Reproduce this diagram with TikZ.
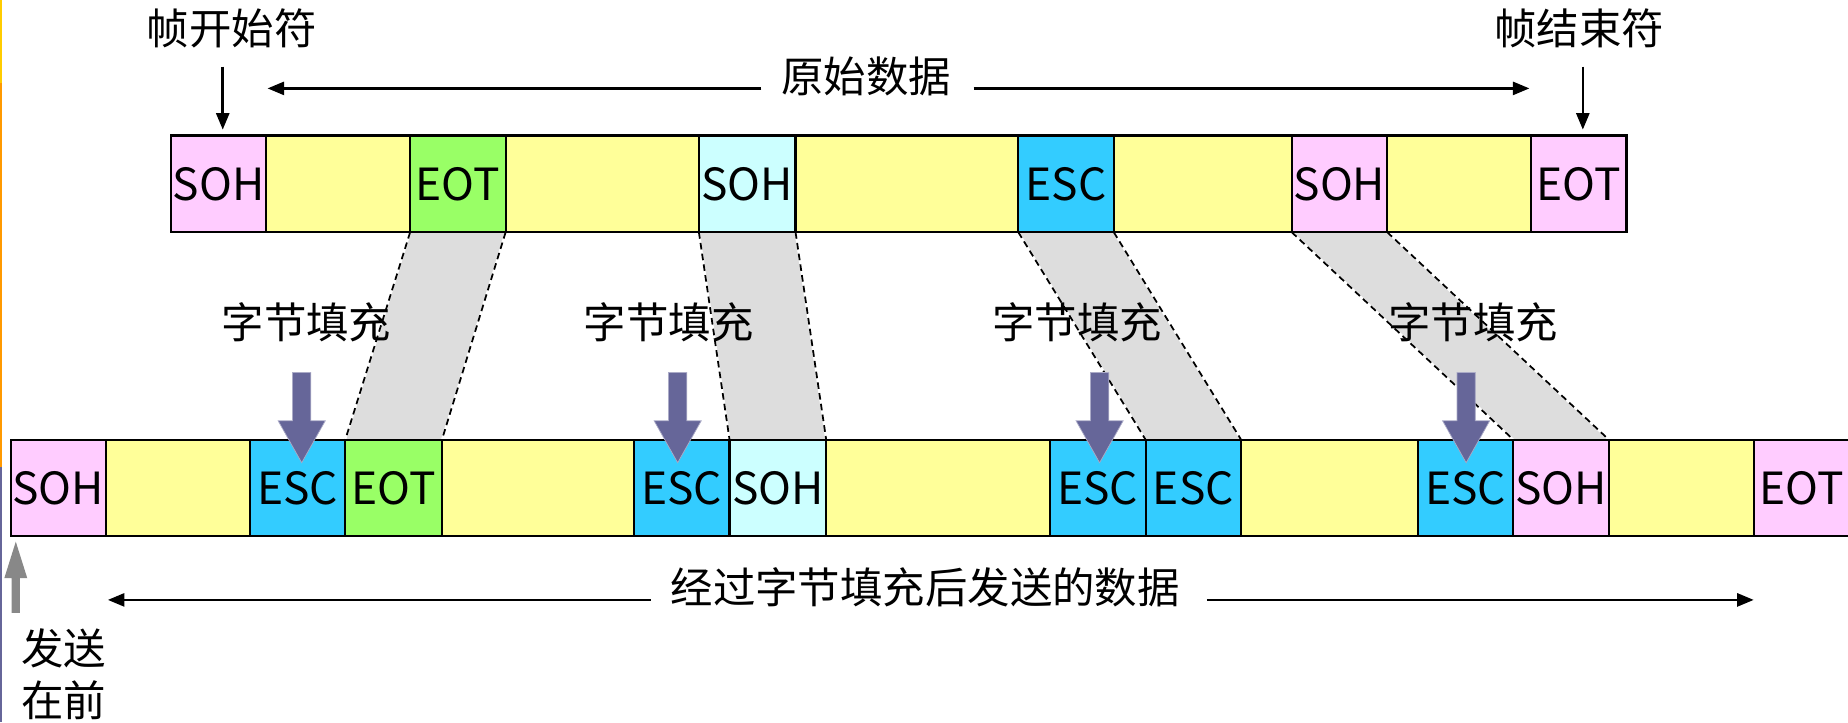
\documentclass[tikz,border=0pt]{standalone}
\usepackage{fontspec}
\setmainfont{Noto Sans CJK SC}
\usetikzlibrary{arrows.meta,backgrounds}
\definecolor{cpink}{HTML}{FFCCFF}
\definecolor{cyel}{HTML}{FFFF99}
\definecolor{cgreen}{HTML}{99FF66}
\definecolor{ccyan}{HTML}{CCFFFF}
\definecolor{cblue}{HTML}{33CCFF}
\definecolor{ctrap}{HTML}{DDDDDD}
\definecolor{cpurple}{HTML}{666699}
\definecolor{cgrayarr}{HTML}{888888}
\definecolor{cgold}{HTML}{FFCC00}
\definecolor{corange}{HTML}{FF9900}
\newcommand{\mycell}[6]{\node[cell, fill=#4, minimum width=#3*0.5pt] (#1) at (#2,#6) {#5};}
\begin{document}
\begin{tikzpicture}[x=0.5pt,y=-0.5pt,
  cell/.style={draw=black, line width=0.9pt, minimum height=41pt, inner sep=0pt, outer sep=0pt, font=\fontsize{18.8pt}{20pt}\selectfont},
  lbl/.style={inner sep=0pt, font=\fontsize{18pt}{20pt}\selectfont},
  arr/.style={line width=1.1pt, -{Triangle[length=7pt,width=5.5pt]}},
  dashln/.style={white, line width=0.8pt, postaction={draw=black, line width=0.75pt, dash pattern=on 2.8pt off 1.8pt}},
  purplearrow/.pic={\fill[cpurple, draw=cpurple!55!white, line width=0.3pt] (-7.75,0) -- (7.75,0) -- (7.75,41) -- (20,41) -- (0,76.6) -- (-20,41) -- (-7.75,41) -- cycle;},
  grayarrow/.pic={\fill[cgrayarr] (-3.5,0) -- (3.5,0) -- (3.5,-29.4) -- (9.75,-29.4) -- (0,-60.4) -- (-9.75,-29.4) -- (-3.5,-29.4) -- cycle;}
]
\useasboundingbox (0,0) rectangle (1568,612.6);

% top row
\mycell{t1}{185.5}{81}{cpink}{SOH}{156}
\mycell{t2}{287}{122}{cyel}{}{156}
\mycell{t3}{388.5}{81}{cgreen}{EOT}{156}
\mycell{t4}{511}{164}{cyel}{}{156}
\mycell{t5}{634}{82}{ccyan}{SOH}{156}
\mycell{t6}{769.5}{189}{cyel}{}{156}
\mycell{t7}{904.5}{81}{cblue}{ESC}{156}
\mycell{t8}{1020.5}{151}{cyel}{}{156}
\mycell{t9}{1136.5}{81}{cpink}{SOH}{156}
\mycell{t10}{1238}{122}{cyel}{}{156}
\mycell{t11}{1339.5}{81}{cpink}{EOT}{156}

% bottom row
\mycell{b1}{49.5}{81}{cpink}{SOH}{414}
\mycell{b2}{151}{122}{cyel}{}{414}
\mycell{b3}{252.5}{81}{cblue}{ESC}{414}
\mycell{b4}{334}{82}{cgreen}{EOT}{414}
\mycell{b5}{456.5}{163}{cyel}{}{414}
\mycell{b6}{578.5}{81}{cblue}{ESC}{414}
\mycell{b7}{660}{82}{ccyan}{SOH}{414}
\mycell{b8}{796}{190}{cyel}{}{414}
\mycell{b9}{931.5}{81}{cblue}{ESC}{414}
\mycell{b10}{1012.5}{81}{cblue}{ESC}{414}
\mycell{b11}{1128}{150}{cyel}{}{414}
\mycell{b12}{1243.5}{81}{cblue}{ESC}{414}
\mycell{b13}{1324.5}{81}{cpink}{SOH}{414}
\mycell{b14}{1426.5}{123}{cyel}{}{414}
\mycell{b15}{1528.5}{81}{cpink}{EOT}{414}

% background: white page, edge strips, trapezoids
\begin{scope}[on background layer]
\fill[white] (0,0) rectangle (1568,612.6);
\fill[cgold] (0,0) rectangle (1.4,70);
\fill[corange] (0,70) rectangle (1.4,396);
\fill[cpurple] (0,396) rectangle (1.4,612.6);
\foreach \u/\v in {t3/b4, t5/b7, t7/b10, t9/b13}{
  \fill[ctrap] (\u.south west) -- (\u.south east) -- (\v.north east) -- (\v.north west) -- cycle;
  \draw[dashln] (\u.south west) -- (\v.north west);
  \draw[dashln] (\u.south east) -- (\v.north east);
}
\end{scope}

% top labels and arrows
\node[lbl] (lstart) at (196.5,24) {帧开始符};
\node[lbl] (lend) at (1340,24) {帧结束符};
\coordinate (s1) at (189,56.6);
\coordinate (s2) at (1343,56.6);
\draw[arr, shorten >=2.5pt] (s1) -- (s1 |- t1.north);
\draw[arr, shorten >=2.5pt] (s2) -- (s2 |- t11.north);

\node[lbl] (orig) at (735,64.5) {原始数据};
\coordinate (oL) at (646,75);
\coordinate (oLt) at (227,75);
\coordinate (oR) at (826,75);
\coordinate (oRt) at (1297.7,75);
\draw[arr] (oL) -- (oLt);
\draw[arr] (oR) -- (oRt);

% stuffing labels
\node[lbl] (f1) at (260,273.6) {字节填充};
\node[lbl] (f2) at (567.5,273.6) {字节填充};
\node[lbl] (f3) at (914,273.6) {字节填充};
\node[lbl] (f4) at (1250,273.6) {字节填充};

% purple arrows
\pic at (256,316) {purplearrow};
\pic at (575,316) {purplearrow};
\pic at (933,316) {purplearrow};
\pic at (1244,316) {purplearrow};

% bottom label and arrows
\node[lbl] (sent) at (785,498.5) {经过字节填充后发送的数据};
\coordinate (sL) at (552,509);
\coordinate (sLt) at (91.5,509);
\coordinate (sR) at (1024,509);
\coordinate (sRt) at (1488,509);
\draw[arr] (sL) -- (sLt);
\draw[arr] (sR) -- (sRt);

% send-first arrow and text
\pic at (13.4,520) {grayarrow};
\node[lbl] (fs1) at (54,550) {发送};
\node[lbl] (fs2) at (54,594) {在前};
\end{tikzpicture}
\end{document}
